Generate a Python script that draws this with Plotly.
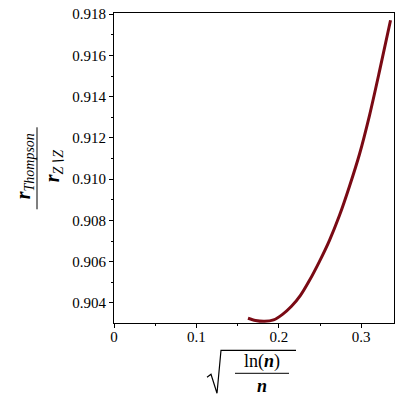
import plotly.graph_objects as go

# data
x_vals = [0.1626, 0.1717, 0.1827, 0.1936, 0.2045, 0.2154, 0.2263, 0.2373, 0.2494,
          0.2615, 0.2737, 0.2858, 0.2979, 0.3101, 0.3222, 0.3356]
y_vals = [0.90326, 0.90315, 0.90311, 0.90318, 0.90345, 0.90384, 0.90437, 0.90510, 0.90602,
          0.90704, 0.90825, 0.90966, 0.91121, 0.91310, 0.91524, 0.91771]
x_ticks = [0, 0.1, 0.2, 0.3]
x_tick_labels = ["0", "0.1", "0.2", "0.3"]
y_ticks = [0.904, 0.906, 0.908, 0.910, 0.912, 0.914, 0.916, 0.918]
y_tick_labels = ["0.904", "0.906", "0.908", "0.910", "0.912", "0.914", "0.916", "0.918"]

W, H = 400, 400
# plot area in page pixels
PX0, PX1, PY0, PY1 = 114, 394, 12.7, 322.7
L, R = PX0, W - PX1
T, B = PY0, H - PY1
PW, PH = PX1 - PX0, PY1 - PY0


def px(xp):
    return (xp - PX0) / PW


def py(yp):
    return (PY1 - yp) / PH


SERIF = "Liberation Serif"

fig = go.Figure()
fig.add_trace(go.Scatter(x=x_vals, y=y_vals, mode="lines",
                         line=dict(color="#7a0a14", width=3, shape="spline", smoothing=0.8),
                         hoverinfo="skip", showlegend=False))

fig.update_layout(
    width=W, height=H,
    margin=dict(l=L, r=R, t=T, b=B, pad=0),
    paper_bgcolor="white", plot_bgcolor="white",
    font=dict(family=SERIF, size=15, color="black"),
)
fig.update_xaxes(range=[0, 0.3398], showgrid=False, zeroline=False,
                 showline=True, linecolor="black", linewidth=1, mirror=True,
                 ticks="outside", ticklen=4, tickcolor="black",
                 tickvals=x_ticks, ticktext=x_tick_labels, ticklabelstandoff=-4,
                 minor=dict(ticks="outside", ticklen=2, dtick=0.05, tick0=0, tickcolor="black"),
                 tickfont=dict(family=SERIF, size=15))
fig.update_yaxes(range=[0.90303, 0.91806], showgrid=False, zeroline=False,
                 showline=True, linecolor="black", linewidth=1, mirror=True,
                 ticks="outside", ticklen=4, tickcolor="black",
                 tickvals=y_ticks, ticktext=y_tick_labels, ticklabeloverflow="allow",
                 minor=dict(ticks="outside", ticklen=2, dtick=0.001, tick0=0.904, tickcolor="black"),
                 tickfont=dict(family=SERIF, size=15))

ann = dict(xref="paper", yref="paper", showarrow=False, xanchor="center", yanchor="middle")

# y-axis title: fraction r_Thompson / r_Z∖Z (rotated)
fig.add_shape(type="line", xref="paper", yref="paper",
              x0=px(37), x1=px(37), y0=py(127), y1=py(209),
              line=dict(color="black", width=1))
fig.add_annotation(x=px(24), y=py(166),
                   text="<b><i>r</i></b><sub><i>Thompson</i></sub>",
                   textangle=-90, font=dict(family=SERIF, size=20, color="black"), **ann)
fig.add_annotation(x=px(53), y=py(166),
                   text="<b><i>r</i></b><sub><i>Z\u2216Z</i></sub>",
                   textangle=-90, font=dict(family=SERIF, size=20, color="black"), **ann)

# x-axis title: sqrt(ln(n)/n)
rad = [(207, 377), (211, 374), (217, 393), (221, 350), (296, 350)]
path = "M " + " L ".join(f"{px(a):.5f},{py(b):.5f}" for a, b in rad)
fig.add_shape(type="path", xref="paper", yref="paper", path=path,
              line=dict(color="black", width=1.2))
fig.add_shape(type="line", xref="paper", yref="paper",
              x0=px(235), x1=px(289), y0=py(373), y1=py(373),
              line=dict(color="black", width=1))
fig.add_annotation(x=px(262), y=py(361), text="ln(<b><i>n</i></b>)",
                   font=dict(family=SERIF, size=18, color="black"), **ann)
fig.add_annotation(x=px(262), y=py(386), text="<b><i>n</i></b>",
                   font=dict(family=SERIF, size=18, color="black"), **ann)

# remove the page's default body margin so the figure sits at (0, 0)
fig.write_html("out.html", config={"displayModeBar": False, "staticPlot": True},
               post_script="document.body.style.margin='0px';")
